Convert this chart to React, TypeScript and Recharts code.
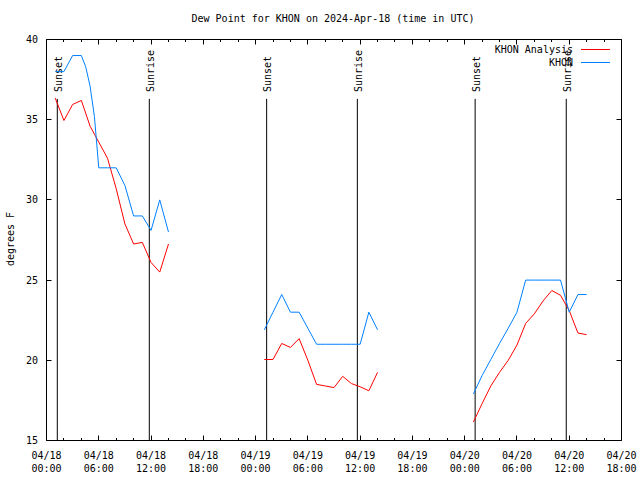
import React from "react";
import { LineChart, Line, XAxis, YAxis, ReferenceLine, ReferenceArea } from "recharts";

// hours since 04/18 00:00 UTC; null rows break the line between days
const ANALYSIS_HOURS = [1, 2, 3, 4, 5, 6, 7, 8, 9, 10, 11, 12, 13, 14, 20, 25, 26, 27, 28, 29, 30, 31, 32, 33, 34, 35, 36, 37, 38, 44, 49, 50, 51, 52, 53, 54, 55, 56, 57, 58, 59, 60, 61, 62];
const ANALYSIS_DEW = [36.35, 34.95, 35.95, 36.2, 34.6, 33.6, 32.6, 30.7, 28.5, 27.25, 27.35, 26.1, 25.5, 27.25, null, 20.05, 20.05, 21.05, 20.8, 21.35, 20.0, 18.5, 18.4, 18.3, 19.0, 18.55, 18.35, 18.1, 19.25, null, 16.15, 17.3, 18.4, 19.25, 20.0, 20.95, 22.3, 22.9, 23.7, 24.35, 24.05, 23.1, 21.7, 21.6];

const OBS_HOURS = [1, 2, 3, 4, 4.5, 5, 5.5, 6, 7, 8, 9, 10, 11, 12, 13, 14, 20, 25, 26, 27, 28, 29, 30, 31, 32, 33, 34, 35, 36, 37, 38, 44, 49, 50, 51, 52, 53, 54, 55, 56, 57, 58, 59, 60, 61, 62];
const OBS_DEW = [38, 38, 39, 39, 38.3, 37.1, 35.2, 32, 32, 32, 30.9, 29, 29, 28.1, 30, 28, null, 21.9, 23, 24.1, 23, 23, 22, 21, 21, 21, 21, 21, 21, 23, 21.9, null, 17.9, 19.05, 20.05, 21.05, 22, 23, 25, 25, 25, 25, 25, 23, 24.1, 24.1];

const SUN_EVENTS = [
  { hour: 1.24, name: "Sunset" },
  { hour: 11.8, name: "Sunrise" },
  { hour: 25.27, name: "Sunset" },
  { hour: 35.68, name: "Sunrise" },
  { hour: 49.2, name: "Sunset" },
  { hour: 59.66, name: "Sunrise" },
];

const X_TICKS = Array.from({ length: 34 }, (_, i) => i * 2);
const Y_TICKS = [15, 20, 25, 30, 35, 40];

const analysis = ANALYSIS_HOURS.map((hour, i) => ({ hour, dew: ANALYSIS_DEW[i] }));
const obs = OBS_HOURS.map((hour, i) => ({ hour, dew: OBS_DEW[i] }));

const FONT = "'DejaVu Sans Mono', 'Liberation Mono', monospace";
const PLOT = { left: 46.5, right: 621.5, top: 39.5, bottom: 440.5 };

const pad = (n: number) => (n < 10 ? "0" + n : "" + n);

function XTick({ x, payload }: any) {
  const h = payload.value;
  const major = h % 6 === 0;
  const len = major ? 5 : 2.5;
  const px = Math.floor(x) + 0.5;
  return (
    <g>
      <line x1={px} x2={px} y1={PLOT.bottom} y2={PLOT.bottom - len} stroke="#000" />
      <line x1={px} x2={px} y1={PLOT.top} y2={PLOT.top + len} stroke="#000" />
      {major && (
        <text x={x} textAnchor="middle" fontFamily={FONT} fontSize={10} fill="#000">
          <tspan x={x} y={459}>{"04/" + (18 + Math.floor(h / 24))}</tspan>
          <tspan x={x} y={472}>{pad(h % 24) + ":00"}</tspan>
        </text>
      )}
    </g>
  );
}

function YTick({ y, payload }: any) {
  const py = Math.floor(y) + 0.5;
  return (
    <g>
      <line x1={PLOT.left} x2={PLOT.left + 5} y1={py} y2={py} stroke="#000" />
      <line x1={PLOT.right} x2={PLOT.right - 5} y1={py} y2={py} stroke="#000" />
      <text x={38} y={y + 3.5} textAnchor="end" fontFamily={FONT} fontSize={10} fill="#000">
        {payload.value}
      </text>
    </g>
  );
}

// rotated label, reading upward from just above the top of each sun line
const sunLabel = (name: string) => (props: any) => {
  const vb = props.viewBox || {};
  const tx = vb.x + 1;
  return (
    <g transform={`translate(${tx}, 92) rotate(-90)`}>
      <text x={0} y={3.5} textAnchor="start" fontFamily={FONT} fontSize={10} fill="#000">
        {name}
      </text>
    </g>
  );
};

export default function App() {
  return (
    <div style={{ position: "absolute", left: 0, top: 0, width: 640, height: 480, background: "#fff" }}>
      <div style={{ position: "absolute", left: 0, top: 13, width: 666, textAlign: "center", fontFamily: FONT, fontSize: 10 }}>
        Dew Point for KHON on 2024-Apr-18 (time in UTC)
      </div>
      <div
        style={{
          position: "absolute",
          left: 10,
          top: 239,
          transform: "translate(-50%, -50%) rotate(-90deg)",
          whiteSpace: "nowrap",
          fontFamily: FONT,
          fontSize: 10,
        }}
      >
        degrees F
      </div>

      <LineChart width={640} height={480} margin={{ top: PLOT.top, right: 640 - PLOT.right, bottom: 0, left: 0 }}>
        <XAxis
          type="number"
          dataKey="hour"
          domain={[0, 66]}
          ticks={X_TICKS}
          interval={0}
          height={480 - PLOT.bottom}
          axisLine={false}
          tickLine={false}
          tick={<XTick />}
          allowDataOverflow
        />
        <YAxis
          type="number"
          domain={[15, 40]}
          ticks={Y_TICKS}
          interval={0}
          width={PLOT.left}
          axisLine={false}
          tickLine={false}
          tick={<YTick />}
          allowDataOverflow
        />
        <ReferenceArea x1={0} x2={66} y1={15} y2={40} fill="none" stroke="#000" strokeWidth={1} />
        {SUN_EVENTS.map((s, i) => (
          <ReferenceLine
            key={i}
            segment={[{ x: s.hour, y: 15 }, { x: s.hour, y: 36.3 }]}
            stroke="#000"
            strokeWidth={1}
            label={sunLabel(s.name)}
          />
        ))}
        <Line data={analysis} dataKey="dew" type="linear" stroke="#ff0000" strokeWidth={1} dot={false} isAnimationActive={false} />
        <Line data={obs} dataKey="dew" type="linear" stroke="#0080ff" strokeWidth={1} dot={false} isAnimationActive={false} />
      </LineChart>

      <div style={{ position: "absolute", left: 420, top: 40 }}>
        <svg width={200} height={30}>
          <text x={153} y={9} textAnchor="end" dominantBaseline="central" fontFamily={FONT} fontSize={10}>
            KHON Analysis
          </text>
          <line x1={161} x2={190} y1={9.5} y2={9.5} stroke="#ff0000" />
          <text x={153} y={22} textAnchor="end" dominantBaseline="central" fontFamily={FONT} fontSize={10}>
            KHON
          </text>
          <line x1={161} x2={190} y1={22.5} y2={22.5} stroke="#0080ff" />
        </svg>
      </div>
    </div>
  );
}
